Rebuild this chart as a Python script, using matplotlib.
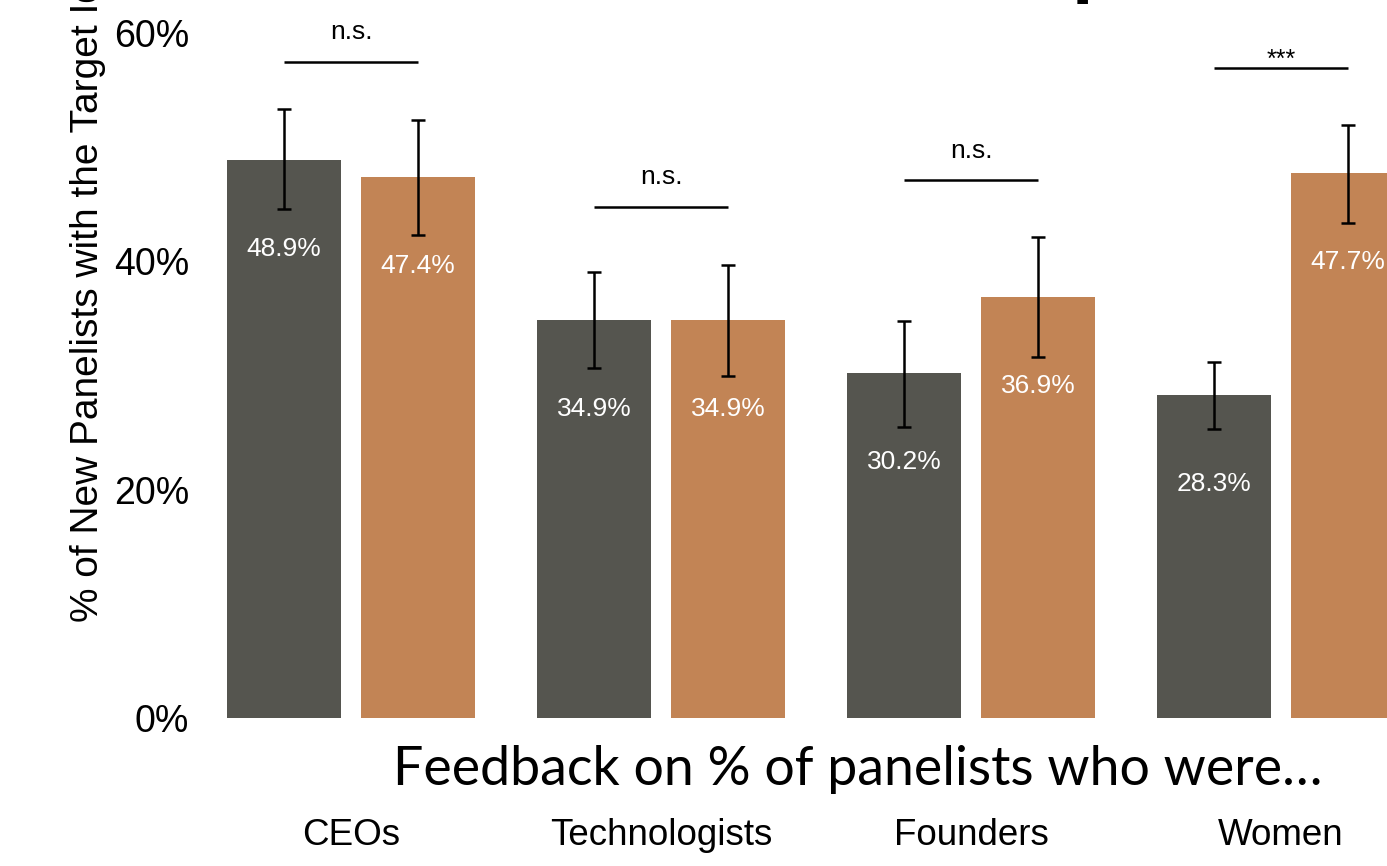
import matplotlib
matplotlib.use("Agg")
import matplotlib.pyplot as plt
import numpy as np

# ---- data -------------------------------------------------------------
categories = ["CEOs", "Technologists", "Founders", "Women"]
control_vals = [48.9, 34.9, 30.2, 28.3]
feedback_vals = [47.4, 34.9, 36.9, 47.7]
control_lo = [44.6, 30.7, 25.5, 25.3]
control_hi = [53.3, 39.1, 34.8, 31.2]
feedback_lo = [42.3, 30.0, 31.6, 43.4]
feedback_hi = [52.4, 39.7, 42.1, 51.9]
sig_labels = ["n.s.", "n.s.", "n.s.", "***"]
sig_line_y = [57.5, 44.8, 47.1, 56.9]
y_ticks = [0, 20, 40, 60]

# ---- style ------------------------------------------------------------
DARK = "#55554f"
ORANGE = "#c28455"
W, H, DPI = 1387, 866, 100

plt.rcParams["font.family"] = ["Liberation Sans", "DejaVu Sans"]

fig = plt.figure(figsize=(W / DPI, H / DPI), dpi=DPI)
fig.patch.set_facecolor("white")

# axes: left at 200 px, right at figure edge, bottom at 718 px from top
ax_left_px, ax_bottom_px = 200, 718
ax = fig.add_axes([ax_left_px / W, (H - ax_bottom_px) / H,
                   1 - ax_left_px / W, ax_bottom_px / H])

px_per_unit_x = 310.0
first_center_px = 351.0
xmin = -(first_center_px - ax_left_px) / px_per_unit_x
xmax = xmin + (W - ax_left_px) / px_per_unit_x
px_per_pct = 685.0 / 60.0
ymax = 60 + 33 / px_per_pct
ax.set_xlim(xmin, xmax)
ax.set_ylim(0, ymax)

x = np.arange(len(categories))
bw = 114 / px_per_unit_x
off = 67 / px_per_unit_x

ax.bar(x - off, control_vals, width=bw, color=DARK, zorder=2)
ax.bar(x + off, feedback_vals, width=bw, color=ORANGE, zorder=2)

cv = np.array(control_vals)
fv = np.array(feedback_vals)
ax.errorbar(x - off, cv, yerr=[cv - np.array(control_lo), np.array(control_hi) - cv],
            fmt="none", ecolor="black", elinewidth=1.8, capsize=4.7, capthick=1.8, zorder=3)
ax.errorbar(x + off, fv, yerr=[fv - np.array(feedback_lo), np.array(feedback_hi) - fv],
            fmt="none", ecolor="black", elinewidth=1.8, capsize=4.7, capthick=1.8, zorder=3)

# value labels inside bars
for xi, v in zip(x - off, control_vals):
    ax.text(xi, v - 7.8, f"{v:.1f}%", ha="center", va="center",
            color="white", fontsize=19, zorder=4)
for xi, v in zip(x + off, feedback_vals):
    ax.text(xi, v - 7.8, f"{v:.1f}%", ha="center", va="center",
            color="white", fontsize=19, zorder=4, clip_on=False)

# significance brackets
for xi, lab, ly in zip(x, sig_labels, sig_line_y):
    ax.plot([xi - off, xi + off], [ly, ly], color="black", lw=1.8,
            solid_capstyle="butt", zorder=3)
    if lab == "***":
        ax.text(xi, ly + 0.1, lab, ha="center", va="baseline",
                fontsize=18, color="black")
    else:
        ax.text(xi, ly + 2.6, lab, ha="center", va="center",
                fontsize=19, color="black")

# axes cosmetics
for s in ax.spines.values():
    s.set_visible(False)
ax.set_yticks(y_ticks)
ax.set_yticklabels([f"{t}%" for t in y_ticks], fontsize=27)
ax.set_xticks(x)
ax.set_xticklabels(categories, fontsize=26.5)
ax.tick_params(axis="both", length=0)
ax.tick_params(axis="y", pad=8)
ax.tick_params(axis="x", pad=72)

fig.text(88 / W, 1 - 622 / H, "% of New Panelists with the Target Identity",
         rotation=90, ha="center", va="bottom", fontsize=28)

fig.text(858 / W, 1 - 770 / H, "Feedback on % of panelists who were…",
         ha="center", va="center", fontsize=38.7,
         family=["Lato", "DejaVu Sans"])

# slide heading, mostly above the visible area
fig.text(1071.6 / W, 1 + 12 / H, "p", ha="left", va="baseline",
         fontsize=56, fontweight="bold")

fig.savefig("out.png", dpi=DPI, facecolor="white")
